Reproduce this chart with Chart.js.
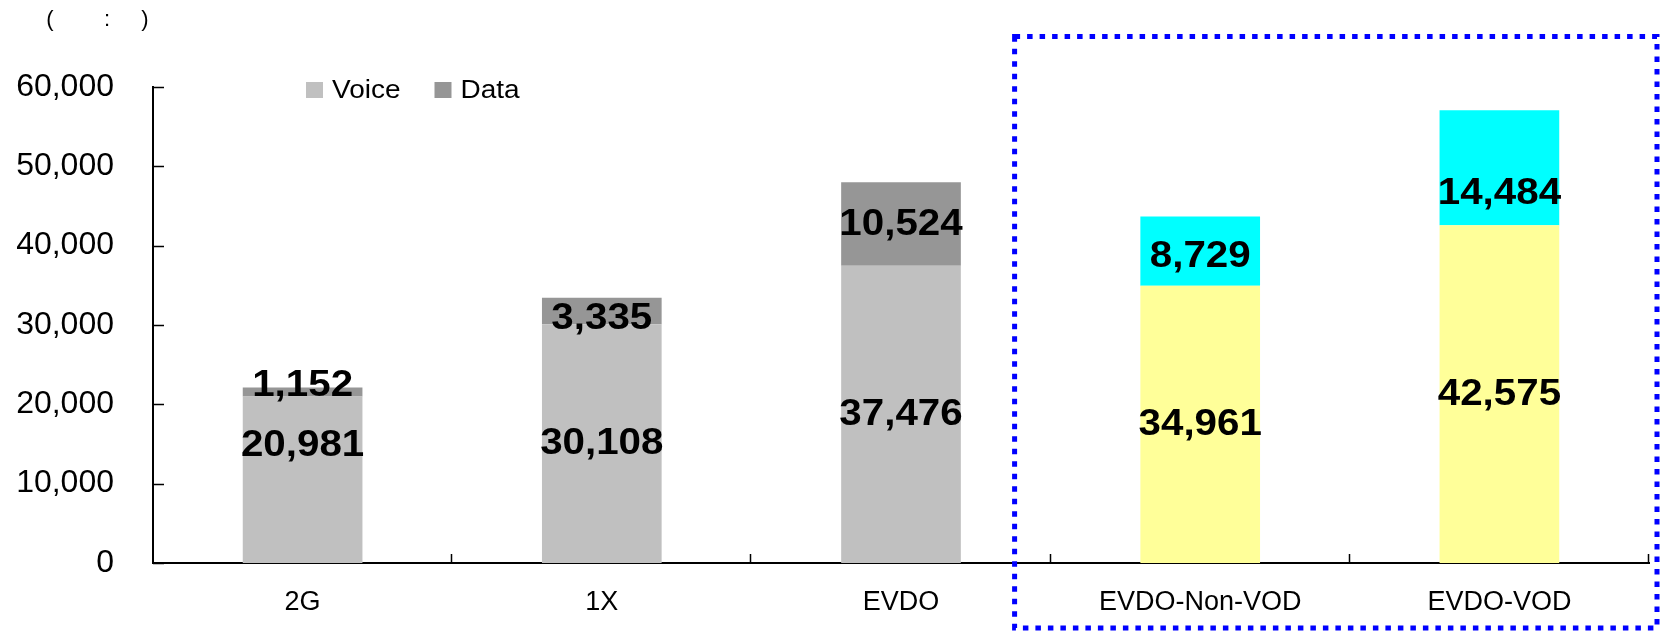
<!DOCTYPE html>
<html>
<head>
<meta charset="utf-8">
<script src="https://cdn.jsdelivr.net/npm/chart.js@4/dist/chart.umd.min.js"></script>
<style>
  html, body { margin: 0; padding: 0; background: #ffffff; }
  #wrap { width: 1663px; height: 633px; position: relative; }
</style>
</head>
<body>
<div id="wrap"><canvas id="chart" width="1663" height="633"></canvas></div>
<script>
// Network types on the category axis
const categories = ['2G', '1X', 'EVDO', 'EVDO-Non-VOD', 'EVDO-VOD'];

// Stacked series values
const voiceValues = [20981, 30108, 37476, 34961, 42575];
const dataValues = [1152, 3335, 10524, 8729, 14484];

// Value axis ticks
const yTickValues = [0, 10000, 20000, 30000, 40000, 50000, 60000];

// Fill colours per category (grey for the existing networks, highlighted for the VOD split)
const voiceColors = ['#C0C0C0', '#C0C0C0', '#C0C0C0', '#FFFF99', '#FFFF99'];
const dataColors = ['#969696', '#969696', '#969696', '#00FFFF', '#00FFFF'];

// Vertical nudges (px) for the value labels, per dataset then per category
const labelNudge = [
  [-35, 0, 0, 0, 0],
  [-7, 7, 0, 5, 25]
];

const FONT = '"Liberation Sans", Arial, sans-serif';

const fmt = v => Number(v).toLocaleString('en-US');

// Draws text slightly widened horizontally
function fillWide(ctx, text, x, y, sx) {
  ctx.save();
  ctx.translate(x, y);
  ctx.scale(sx, 1);
  ctx.fillText(text, 0, 0);
  ctx.restore();
}

// Inward tick marks on both axes
const innerTicks = {
  id: 'innerTicks',
  afterDatasetsDraw(chart) {
    const { ctx, chartArea, scales } = chart;
    const y = scales.y;
    ctx.save();
    ctx.strokeStyle = '#000';
    ctx.lineWidth = 1.5;
    ctx.beginPath();
    y.ticks.forEach(t => {
      const py = Math.round(y.getPixelForValue(t.value)) + 0.5;
      ctx.moveTo(chartArea.left, py);
      ctx.lineTo(chartArea.left + 11, py);
    });
    const n = categories.length;
    const w = (chartArea.right - chartArea.left) / n;
    for (let i = 1; i <= n; i++) {
      const px = Math.round(chartArea.left + i * w) - 0.5;
      ctx.moveTo(px, chartArea.bottom);
      ctx.lineTo(px, chartArea.bottom - 9);
    }
    ctx.stroke();
    ctx.restore();
  }
};

// Value labels inside each stacked segment
const valueLabels = {
  id: 'valueLabels',
  afterDatasetsDraw(chart) {
    const { ctx } = chart;
    ctx.save();
    ctx.fillStyle = '#000';
    ctx.font = 'bold 36px ' + FONT;
    ctx.textAlign = 'center';
    ctx.textBaseline = 'middle';
    chart.data.datasets.forEach((ds, di) => {
      const meta = chart.getDatasetMeta(di);
      meta.data.forEach((el, i) => {
        const cy = (el.y + el.base) / 2 + labelNudge[di][i];
        fillWide(ctx, fmt(ds.data[i]), el.x, cy + 1, 1.12);
      });
    });
    ctx.restore();
  }
};

// Legend inside the plot, near the top-left
const insideLegend = {
  id: 'insideLegend',
  afterDraw(chart) {
    const { ctx, chartArea } = chart;
    const sx = 1.12;
    ctx.save();
    ctx.font = '25px ' + FONT;
    ctx.textBaseline = 'middle';
    ctx.textAlign = 'left';
    let x = chartArea.left + 153;
    const cy = chartArea.top + 3;
    chart.data.datasets.forEach(ds => {
      ctx.fillStyle = ds.legendColor;
      ctx.fillRect(x, cy - 8, 17, 16);
      ctx.fillStyle = '#000';
      fillWide(ctx, ds.label, x + 26, cy + 1, sx);
      x += 26 + ctx.measureText(ds.label).width * sx + 34;
    });
    ctx.restore();
  }
};

// Unit note in the top-left corner and the dotted frame around the VOD split
const decorations = {
  id: 'decorations',
  afterDraw(chart) {
    const { ctx, chartArea } = chart;
    ctx.save();
    ctx.fillStyle = '#000';
    ctx.font = '22px ' + FONT;
    ctx.textAlign = 'center';
    ctx.textBaseline = 'middle';
    ctx.fillText('(', 50, 20);
    ctx.fillText(':', 107, 20);
    ctx.fillText(')', 145, 20);

    const n = categories.length;
    const w = (chartArea.right - chartArea.left) / n;
    const left = chartArea.left + 3 * w - 36;
    const right = chart.width - 6;
    const top = 36.5;
    const bottom = 628;
    ctx.strokeStyle = '#0000FF';
    ctx.lineWidth = 5;
    ctx.setLineDash([5.5, 7]);
    ctx.strokeRect(left, top, right - left, bottom - top);
    ctx.restore();
  }
};

new Chart(document.getElementById('chart'), {
  type: 'bar',
  data: {
    labels: categories,
    datasets: [
      {
        label: 'Voice',
        data: voiceValues,
        backgroundColor: voiceColors,
        legendColor: voiceColors[0],
        borderWidth: 0
      },
      {
        label: 'Data',
        data: dataValues,
        backgroundColor: dataColors,
        legendColor: dataColors[0],
        borderWidth: 0
      }
    ]
  },
  options: {
    responsive: false,
    animation: false,
    devicePixelRatio: 1,
    layout: { padding: { top: 87, right: 14, left: 0, bottom: 0 } },
    datasets: { bar: { categoryPercentage: 0.4, barPercentage: 1.0 } },
    plugins: {
      legend: { display: false },
      tooltip: { enabled: false },
      title: { display: false }
    },
    scales: {
      x: {
        stacked: true,
        grid: { display: false, drawTicks: false },
        border: { display: true, color: '#000', width: 2 },
        ticks: {
          color: '#000',
          font: { family: FONT, size: 27 },
          padding: 23,
          maxRotation: 0,
          autoSkip: false
        },
        afterFit(scale) { scale.height = 70; }
      },
      y: {
        stacked: true,
        min: 0,
        max: 60000,
        afterBuildTicks(scale) {
          scale.ticks = yTickValues.map(v => ({ value: v }));
        },
        grid: { display: false, drawTicks: false },
        border: { display: true, color: '#000', width: 2 },
        ticks: {
          color: '#000',
          font: { family: FONT, size: 32 },
          padding: 39,
          callback: v => fmt(v)
        },
        afterFit(scale) { scale.width = 153; }
      }
    }
  },
  plugins: [innerTicks, valueLabels, insideLegend, decorations]
});
</script>
</body>
</html>
